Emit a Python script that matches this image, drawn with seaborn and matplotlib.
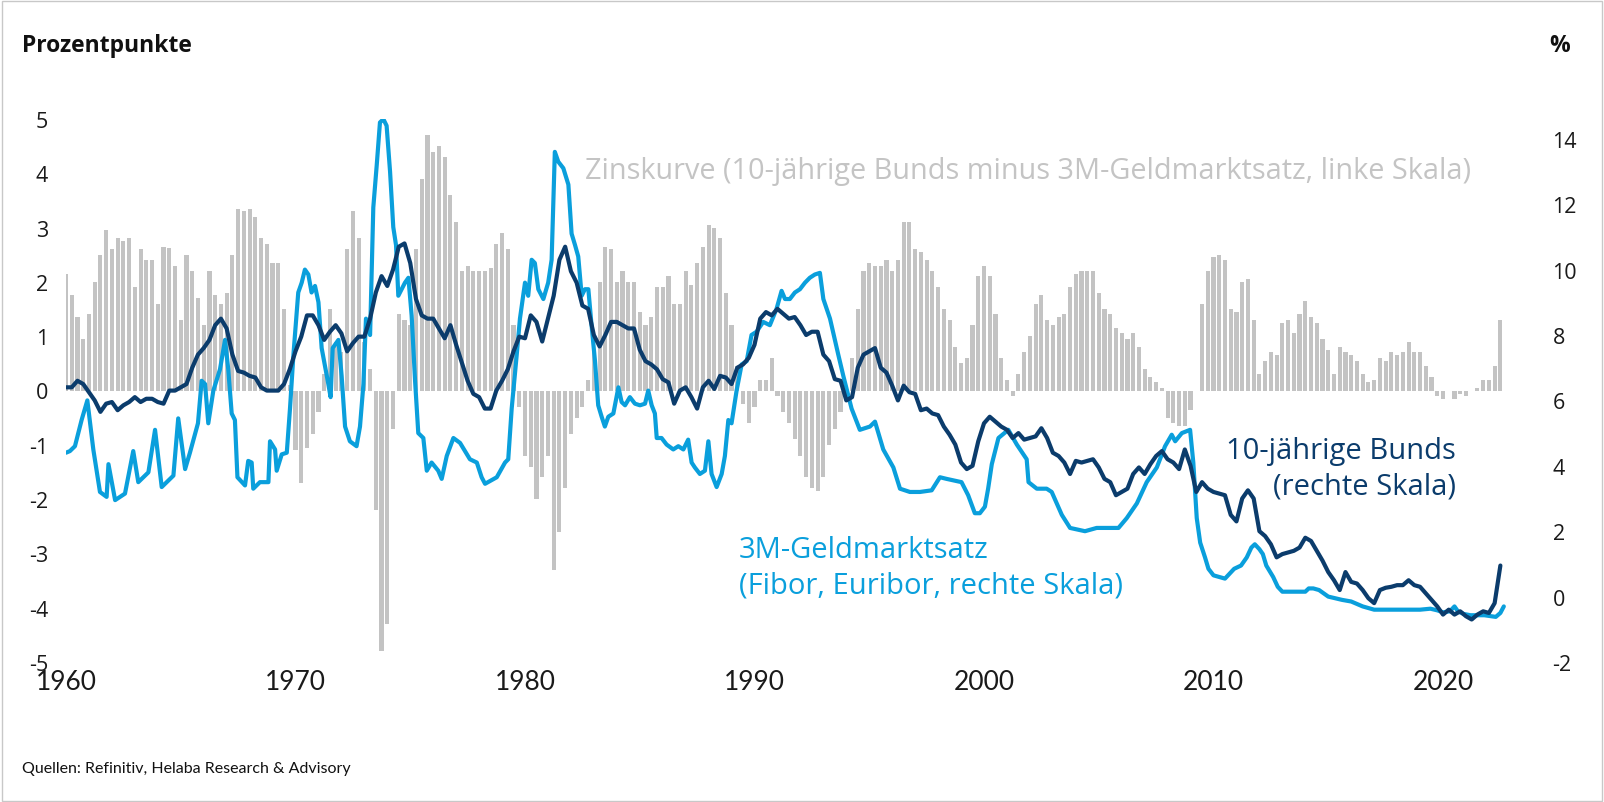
import numpy as np
import pandas as pd
import seaborn as sns
import matplotlib.pyplot as plt
from matplotlib import font_manager
from matplotlib.patches import Rectangle

# quarterly time index 1960.00 ... 2022.50
q_year = 1960 + np.arange(251) * 0.25

# Zinskurve: 10-jährige Bunds minus 3M-Geldmarktsatz (Prozentpunkte, linke Skala)
spread = [
    2.15, 1.75, 1.35, 0.95, 1.4, 2.0, 2.5, 2.95, 2.6, 2.8, 2.75, 2.8,
    1.9, 2.6, 2.4, 2.4, 1.6, 2.65, 2.62, 2.3, 1.3, 2.5, 2.2, 1.7,
    1.2, 2.2, 1.75, 1.6, 1.8, 2.5, 3.35, 3.3, 3.35, 3.2, 2.8, 2.7,
    2.35, 2.35, 1.5, 0.1,
    -1.1, -1.7, -1.05, -0.8, -0.4, 0.3, 1.5, 0.9, 0.7, 2.6, 3.3, 2.8,
    0.9, 0.4, -2.2, -4.8, -4.3, -0.7, 1.4, 1.3, 1.2, 2.6, 3.9, 4.7,
    4.4, 4.5, 4.3, 3.6, 3.1, 2.2, 2.3, 2.2, 2.2, 2.2, 2.25, 2.7,
    2.9, 2.6, 1.2, -0.3,
    -1.2, -1.4, -2.0, -1.6, -1.2, -3.3, -2.6, -1.8, -0.8, -0.5, -0.3, 0.2,
    0.7, 2.0, 2.65, 2.6, 2.0, 2.2, 2.0, 2.0, 1.45, 1.2, 1.35, 1.9,
    1.9, 2.1, 1.6, 1.6, 2.2, 1.95, 2.35, 2.65, 3.05, 3.0, 2.8, 1.8,
    1.2, 0.45, -0.25, -0.6,
    -0.3, 0.2, 0.2, 0.6, -0.1, -0.4, -0.6, -0.9, -1.2, -1.6, -1.8, -1.85,
    -1.6, -1.0, -0.7, -0.4, 0.0, 0.6, 1.5, 2.2, 2.35, 2.3, 2.3, 2.4,
    2.2, 2.4, 3.1, 3.1, 2.6, 2.55, 2.4, 2.2, 1.9, 1.5, 1.3, 0.8,
    0.5, 0.6, 1.2, 2.1,
    2.3, 2.1, 1.4, 0.6, 0.2, -0.1, 0.3, 0.7, 1.0, 1.6, 1.75, 1.3,
    1.2, 1.35, 1.4, 1.9, 2.15, 2.2, 2.2, 2.2, 1.8, 1.5, 1.4, 1.15,
    1.05, 0.95, 1.05, 0.8, 0.4, 0.25, 0.15, 0.05, -0.5, -0.6, -0.65, -0.65,
    -0.35, 0.0, 1.6, 2.2,
    2.45, 2.5, 2.4, 1.5, 1.45, 2.0, 2.05, 1.3, 0.3, 0.55, 0.7, 0.65,
    1.25, 1.3, 1.05, 1.4, 1.65, 1.35, 1.25, 0.95, 0.75, 0.3, 0.8, 0.7,
    0.65, 0.55, 0.3, 0.15, 0.2, 0.6, 0.55, 0.7, 0.65, 0.7, 0.9, 0.7,
    0.7, 0.45, 0.25, -0.1, -0.15, 0.0, -0.15, -0.07, -0.1, 0.0, 0.05, 0.2,
    0.2, 0.45, 1.3,
]

# 10-jährige Bunds (%, rechte Skala), quarterly
bund = [
    6.4, 6.4, 6.6, 6.5, 6.25, 6.0, 5.65, 5.9, 5.95, 5.7, 5.85, 5.95,
    6.1, 5.95, 6.05, 6.05, 5.95, 5.9, 6.3, 6.3, 6.4, 6.5, 7.0, 7.4,
    7.6, 7.85, 8.3, 8.5, 8.2, 7.4, 6.9, 6.85, 6.75, 6.7, 6.4, 6.3,
    6.3, 6.3, 6.5, 6.95,
    7.5, 7.95, 8.6, 8.6, 8.3, 7.85, 8.1, 8.3, 8.05, 7.5, 7.75, 7.95,
    7.95, 8.5, 9.3, 9.8, 9.5, 10.0, 10.7, 10.8, 10.2, 9.1, 8.6, 8.5,
    8.5, 8.2, 7.9, 8.3, 7.7, 7.15, 6.6, 6.2, 6.1, 5.75, 5.75, 6.3,
    6.6, 6.95, 7.5, 7.95,
    7.9, 8.6, 8.4, 7.8, 8.5, 9.2, 10.3, 10.7, 9.95, 9.6, 8.9, 8.8,
    8.0, 7.65, 8.0, 8.4, 8.4, 8.3, 8.2, 8.2, 7.55, 7.2, 7.1, 6.95,
    6.65, 6.55, 5.9, 6.3, 6.4, 6.1, 5.75, 6.4, 6.6, 6.35, 6.75, 6.7,
    6.5, 7.0, 7.1, 7.3,
    7.7, 8.5, 8.7, 8.6, 8.8, 8.65, 8.5, 8.55, 8.3, 8.0, 8.1, 8.1,
    7.4, 7.2, 6.65, 6.6, 6.0, 6.1, 7.0, 7.4, 7.5, 7.6, 7.0, 6.85,
    6.45, 6.0, 6.45, 6.25, 6.2, 5.7, 5.75, 5.6, 5.55, 5.2, 4.95, 4.65,
    4.1, 3.9, 4.0, 4.75,
    5.3, 5.5, 5.35, 5.2, 5.1, 4.85, 5.0, 4.8, 4.85, 4.9, 5.15, 4.85,
    4.4, 4.3, 4.1, 3.75, 4.15, 4.1, 4.15, 4.2, 3.95, 3.6, 3.5, 3.1,
    3.2, 3.3, 3.75, 3.95, 3.75, 4.05, 4.3, 4.45, 4.2, 4.1, 3.9, 4.5,
    4.0, 3.2, 3.5, 3.3,
    3.2, 3.15, 3.1, 2.5, 2.3, 3.0, 3.25, 3.0, 2.0, 1.85, 1.6, 1.2,
    1.3, 1.35, 1.4, 1.5, 1.8, 1.7, 1.4, 1.1, 0.75, 0.5, 0.2, 0.75,
    0.45, 0.4, 0.2, -0.05, -0.2, 0.2, 0.27, 0.3, 0.35, 0.35, 0.5, 0.35,
    0.3, 0.1, -0.1, -0.3, -0.55, -0.4, -0.55, -0.45, -0.6, -0.7, -0.55, -0.45,
    -0.5, -0.2, 0.95,
]

# 3M-Geldmarktsatz (Fibor, Euribor; %, rechte Skala), read at turning points
mm_year = [
    1960.0, 1960.17, 1960.39, 1960.68, 1960.93, 1961.19, 1961.48, 1961.77, 1961.85,
    1962.14, 1962.57, 1962.93, 1963.15, 1963.59, 1963.88, 1964.17, 1964.68, 1964.89,
    1965.19, 1965.4, 1965.75, 1965.91, 1966.06, 1966.2, 1966.42, 1966.71, 1966.93,
    1967.07, 1967.22, 1967.36, 1967.47, 1967.8, 1967.94, 1968.09, 1968.16, 1968.45,
    1968.82, 1968.89, 1969.11, 1969.18, 1969.4, 1969.62, 1969.76, 1969.91,
    1970.12, 1970.27, 1970.41, 1970.56, 1970.7, 1970.85, 1971.0, 1971.14, 1971.43,
    1971.53, 1971.62, 1971.87, 1972.01, 1972.16, 1972.37, 1972.66, 1972.81, 1972.96,
    1973.07, 1973.25, 1973.39, 1973.54, 1973.68, 1973.83, 1973.97, 1974.12, 1974.26,
    1974.38, 1974.48, 1974.77, 1974.92, 1975.06, 1975.21, 1975.35, 1975.57, 1975.72,
    1975.93, 1976.22, 1976.37, 1976.59, 1976.88, 1977.17, 1977.6, 1977.9, 1978.11,
    1978.26, 1978.77, 1979.13, 1979.27, 1979.42, 1979.64, 1979.78,
    1980.0, 1980.14, 1980.29, 1980.43, 1980.58, 1980.8, 1981.01, 1981.16, 1981.23,
    1981.3, 1981.45, 1981.67, 1981.89, 1982.03, 1982.18, 1982.32, 1982.47, 1982.61,
    1982.76, 1982.9, 1983.05, 1983.19, 1983.34, 1983.48, 1983.63, 1983.85, 1984.07,
    1984.21, 1984.36, 1984.57, 1984.79, 1985.01, 1985.23, 1985.37, 1985.52, 1985.66,
    1985.74, 1985.95, 1986.17, 1986.46, 1986.68, 1986.9, 1987.11, 1987.26, 1987.4,
    1987.62, 1987.84, 1987.99, 1988.13, 1988.35, 1988.57, 1988.71, 1988.86, 1989.0,
    1989.22, 1989.44, 1989.66, 1989.87,
    1990.09, 1990.38, 1990.67, 1990.96, 1991.18, 1991.33, 1991.54, 1991.76, 1991.98,
    1992.2, 1992.41, 1992.63, 1992.85, 1993.0, 1993.29, 1993.5, 1993.65, 1993.87,
    1994.23, 1994.59, 1995.03, 1995.25, 1995.61, 1996.05, 1996.34, 1996.77, 1997.21,
    1997.72, 1998.08, 1998.37, 1999.02, 1999.31, 1999.6, 1999.82,
    2000.04, 2000.18, 2000.34, 2000.63, 2001.06, 2001.43, 2001.86, 2001.94, 2002.3,
    2002.73, 2002.95, 2003.39, 2003.75, 2004.4, 2004.91, 2005.86, 2006.22, 2006.66,
    2007.09, 2007.53, 2007.89, 2008.18, 2008.33, 2008.62, 2008.98, 2009.12, 2009.27,
    2009.42, 2009.63, 2009.78,
    2010.0, 2010.5, 2010.9, 2011.2, 2011.45, 2011.65, 2011.8, 2012.0, 2012.15,
    2012.3, 2012.6, 2012.8, 2013.0, 2014.0, 2014.15, 2014.35, 2014.6, 2015.0,
    2015.6, 2016.0, 2016.5, 2017.0, 2019.0, 2019.45, 2019.75, 2020.0, 2020.3,
    2020.5, 2020.65, 2020.9, 2021.2, 2021.8, 2022.1, 2022.3, 2022.5, 2022.65,
]
mm_rate = [
    4.4, 4.45, 4.6, 5.4, 6.0, 4.5, 3.2, 3.05, 4.05,
    2.95, 3.15, 4.45, 3.5, 3.8, 5.1, 3.35, 3.7, 5.45,
    3.9, 4.4, 5.3, 6.6, 6.5, 5.3, 6.3, 6.95, 7.85,
    6.95, 5.6, 5.4, 3.65, 3.4, 4.15, 4.1, 3.3, 3.5,
    3.5, 4.75, 4.5, 3.85, 4.35, 4.4, 5.75, 7.4,
    9.3, 9.6, 10.0, 9.85, 9.3, 9.5, 9.0, 7.6, 6.5,
    6.1, 7.6, 7.85, 6.75, 5.2, 4.75, 4.6, 5.2, 6.5,
    8.5, 8.0, 11.9, 13.2, 14.5, 14.6, 14.4, 13.0, 11.3,
    10.75, 9.2, 9.6, 9.75, 8.6, 6.6, 5.0, 4.85, 3.85,
    4.1, 3.85, 3.6, 4.3, 4.85, 4.7, 4.2, 4.1, 3.65,
    3.45, 3.65, 4.1, 4.2, 5.75, 7.4, 8.5,
    9.6, 9.2, 10.3, 10.2, 9.4, 9.1, 9.6, 10.3, 11.9,
    13.6, 13.3, 13.1, 12.6, 11.1, 10.75, 10.4, 9.2, 9.4,
    9.4, 8.3, 7.2, 5.85, 5.5, 5.2, 5.5, 5.6, 6.4,
    5.95, 5.85, 6.1, 5.9, 5.85, 5.9, 6.3, 5.85, 5.6,
    4.85, 4.85, 4.65, 4.5, 4.6, 4.5, 4.8, 4.1, 3.95,
    3.75, 3.85, 4.75, 3.75, 3.35, 3.75, 4.3, 5.4, 5.3,
    6.3, 7.1, 7.2, 8.0,
    8.1, 8.4, 8.3, 8.8, 9.35, 9.1, 9.1, 9.3, 9.4,
    9.6, 9.75, 9.85, 9.9, 9.1, 8.5, 7.85, 7.4, 6.75,
    5.75, 5.1, 5.2, 5.35, 4.5, 3.95, 3.3, 3.2, 3.2,
    3.25, 3.65, 3.6, 3.5, 3.1, 2.55, 2.55,
    2.75, 3.3, 4.05, 4.85, 5.1, 4.65, 4.2, 3.5, 3.3,
    3.3, 3.2, 2.5, 2.1, 2.0, 2.1, 2.1, 2.4, 2.85,
    3.5, 3.95, 4.6, 4.95, 4.75, 5.0, 5.1, 4.1, 2.4,
    1.65, 1.2, 0.85,
    0.65, 0.55, 0.85, 0.95, 1.2, 1.5, 1.6, 1.45, 1.3,
    0.95, 0.6, 0.3, 0.15, 0.15, 0.25, 0.25, 0.2, 0.0,
    -0.1, -0.15, -0.3, -0.4, -0.4, -0.37, -0.42, -0.48, -0.45,
    -0.3, -0.45, -0.53, -0.57, -0.57, -0.6, -0.62, -0.5, -0.3,
]

year_ticks = [1960, 1970, 1980, 1990, 2000, 2010, 2020]
left_ticks = [-5, -4, -3, -2, -1, 0, 1, 2, 3, 4, 5]
right_ticks = [-2, 0, 2, 4, 6, 8, 10, 12, 14]

DARK = "#0b3c6c"
LIGHT = "#0a9fdc"
GREY_BAR = "#c3c3c3"
GREY_TXT = "#c4c4c4"

sns.set_theme(style="white")
installed = {f.name for f in font_manager.fontManager.ttflist}
narrow = "Liberation Sans Narrow" if "Liberation Sans Narrow" in installed else "Lato"
plt.rcParams["font.family"] = ["Open Sans", "DejaVu Sans"]

W, H = 1604, 803
fig = plt.figure(figsize=(W / 100, H / 100), dpi=100)
fig.patch.set_facecolor("white")
x0, x1, y_top, y_bot = 66, 1515, 120, 663
ax = fig.add_axes([x0 / W, 1 - y_bot / H, (x1 - x0) / W, (y_bot - y_top) / H])

ax.bar(q_year, spread, width=0.18, color=GREY_BAR, linewidth=0)
ax.set_ylim(-5, 5)
ax.set_xlim(1960, 1960 + (x1 - x0) / 22.95)

ax2 = ax.twinx()
df_mm = pd.DataFrame({"year": mm_year, "rate": mm_rate})
df_bund = pd.DataFrame({"year": q_year, "rate": bund})
sns.lineplot(data=df_mm, x="year", y="rate", ax=ax2, color=LIGHT, linewidth=3.0)
sns.lineplot(data=df_bund, x="year", y="rate", ax=ax2, color=DARK, linewidth=3.0)
ax2.set_ylim(-2, -2 + (y_bot - y_top) / 32.7)
ax2.set_xlim(ax.get_xlim())

for a in (ax, ax2):
    for s in a.spines.values():
        s.set_visible(False)
    a.set_xlabel("")
    a.set_ylabel("")
    a.grid(False)

ax.set_yticks(left_ticks)
ax.set_yticklabels([str(v) for v in left_ticks])
ax.tick_params(axis="y", length=0, pad=13, labelsize=15.5, labelcolor="#1a1a1a")
ax.set_xticks(year_ticks)
ax.set_xticklabels([str(y) for y in year_ticks], fontfamily=narrow, fontsize=19)
ax.tick_params(axis="x", length=0, pad=5, labelcolor="#1a1a1a")
ax2.set_yticks(right_ticks)
ax2.set_yticklabels([str(v) for v in right_ticks])
ax2.tick_params(axis="y", length=0, pad=27, labelsize=15.5, labelcolor="#1a1a1a")
ax2.tick_params(axis="x", length=0)

def fx(px):
    return px / W

def fy(py):
    return 1 - py / H

fig.text(fx(22), fy(46), "Prozentpunkte", fontsize=16.5, fontweight="bold",
         color="#111111", va="center", ha="left")
fig.text(fx(1560), fy(46), "%", fontsize=16.5, fontweight="bold",
         color="#111111", va="center", ha="center")
fig.text(fx(585), fy(172), "Zinskurve (10-jährige Bunds minus 3M-Geldmarktsatz, linke Skala)",
         fontsize=20.8, color=GREY_TXT, va="center", ha="left")
fig.text(fx(1456), fy(469), "10-jährige Bunds\n(rechte Skala)", fontsize=21,
         color=DARK, va="center", ha="right", multialignment="right", linespacing=1.3)
fig.text(fx(739), fy(568), "3M-Geldmarktsatz\n(Fibor, Euribor, rechte Skala)", fontsize=21,
         color=LIGHT, va="center", ha="left", linespacing=1.3)
fig.text(fx(22), fy(769), "Quellen: Refinitiv, Helaba Research & Advisory",
         fontsize=11.5, fontfamily=narrow, color="#111111", va="center", ha="left")

fig.patches.append(Rectangle((0.001, 0.001), 0.998, 0.997, transform=fig.transFigure,
                             fill=False, edgecolor="#c8c8c8", linewidth=1))

fig.savefig("out.png", dpi=100, facecolor="white")
